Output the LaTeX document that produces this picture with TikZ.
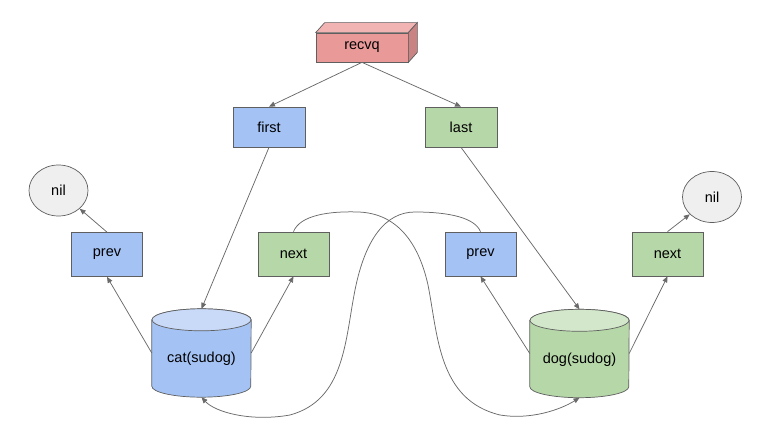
\documentclass[tikz,border=0pt]{standalone}
\usepackage{fontspec}
\setmainfont{Liberation Sans}
\usetikzlibrary{arrows.meta,shapes.geometric,backgrounds}

\definecolor{edgegray}{HTML}{5F5F5F}
\definecolor{wiregray}{HTML}{6A6A6A}
\definecolor{qred}{HTML}{EA9999}
\definecolor{qredtop}{HTML}{F2B3B3}
\definecolor{qredside}{HTML}{C98383}
\definecolor{pblue}{HTML}{A4C2F4}
\definecolor{pbluetop}{HTML}{C9DAF8}
\definecolor{ngreen}{HTML}{B6D7A8}
\definecolor{ngreentop}{HTML}{D3E8CB}
\definecolor{nilgray}{HTML}{EFEFEF}

\newcommand\lbl{\fontsize{14.5}{17}\selectfont}

% cylinder outline around a rectangular node #1: body #2, lid #3
\newcommand\drawdrum[3]{%
  \begin{scope}[on background layer]
    \filldraw[fill=#2, draw=edgegray, line width=0.7pt]
      ([yshift=-11pt]#1.north west) -- ([yshift=11pt]#1.south west)
      arc[start angle=180, end angle=360, x radius=49.5pt, y radius=11pt]
      -- ([yshift=-11pt]#1.north east)
      arc[start angle=0, end angle=180, x radius=49.5pt, y radius=11pt]
      -- cycle;
    \filldraw[fill=#3, draw=edgegray, line width=0.7pt]
      ([yshift=-11pt]#1.north) ellipse[x radius=49.5pt, y radius=11pt];
  \end{scope}}

\begin{document}
\begin{tikzpicture}[x=1pt, y=-1pt,
  cell/.style={draw=edgegray, line width=0.7pt, minimum width=71pt,
    minimum height=44pt, inner sep=0pt, font=\lbl},
  nilnode/.style={ellipse, draw=edgegray, line width=0.7pt, fill=nilgray,
    minimum width=59pt, minimum height=51pt, inner sep=0pt, font=\lbl},
  drum/.style={minimum width=99pt, minimum height=88pt, inner sep=0pt},
  conn/.style={draw=wiregray, line width=0.75pt,
    -{Triangle[length=6pt, width=5pt]}}]

\useasboundingbox (0,0) rectangle (769,444);

% queue header drawn as a 3D block
\node[draw=edgegray, line width=0.7pt, fill=qred, minimum width=92pt,
  minimum height=29pt, inner sep=0pt, font=\lbl] (recvq) at (362,47.5) {recvq};
\filldraw[fill=qredtop, draw=edgegray, line width=0.7pt]
  (recvq.north west) -- ++(9pt,10pt) -- ([shift={(9pt,10pt)}]recvq.north east)
  -- (recvq.north east) -- cycle;
\filldraw[fill=qredside, draw=edgegray, line width=0.7pt]
  (recvq.north east) -- ++(9pt,10pt) -- ([shift={(9pt,10pt)}]recvq.south east)
  -- (recvq.south east) -- cycle;

% first / last pointers
\node[cell, fill=pblue, minimum width=72pt, minimum height=40pt] (first) at (269,127) {first};
\node[cell, fill=ngreen, minimum width=72pt, minimum height=40pt] (last) at (461,127) {last};

% left element
\node[nilnode] (nilL) at (58.5,190.5) {nil};
\node[cell, fill=pblue] (prevL) at (107,254.5) {prev};
\node[cell, fill=ngreen] (nextL) at (293.5,254) {next};
\node[drum] (cat) at (201.5,353) {};
\drawdrum{cat}{pblue}{pbluetop}
\node[font=\lbl] (catlbl) at ([yshift=-6pt]cat.center) {cat(sudog)};

% right element
\node[nilnode] (nilR) at (712,197) {nil};
\node[cell, fill=pblue] (prevR) at (480.5,254) {prev};
\node[cell, fill=ngreen] (nextR) at (667.5,254) {next};
\node[drum] (dog) at (579.5,353.5) {};
\drawdrum{dog}{ngreen}{ngreentop}
\node[font=\lbl] (doglbl) at ([yshift=-6pt]dog.center) {dog(sudog)};

% links
\draw[conn] (recvq.south) -- (first.north);
\draw[conn] (recvq.south) -- (last.north);
\draw[conn] (first.south) -- (cat.north);
\draw[conn] (last.south) -- (dog.north);
\draw[conn] (cat.west) -- (prevL.south);
\draw[conn] (cat.east) -- (nextL.south);
\draw[conn] (dog.west) -- (prevR.south);
\draw[conn] (dog.east) -- (nextR.south);
\draw[conn] (prevL.north) -- (nilL);
\draw[conn] (nextR.north) -- (nilR);

% cat.next -> dog
\draw[conn] (nextL.north)
  .. controls (300,215) and (330,211) .. (358,212)
  .. controls (395,213) and (418,240) .. (428,285)
  .. controls (438,335) and (438,400) .. (500,415)
  .. controls (530,420) and (560,410) .. (dog.south);

% dog.prev -> cat
\draw[conn] (prevR.north)
  .. controls (475,218) and (450,212) .. (415,212)
  .. controls (385,212) and (365,240) .. (355,290)
  .. controls (345,340) and (345,400) .. (290,415)
  .. controls (250,422) and (215,412) .. (cat.south);

\end{tikzpicture}
\end{document}
